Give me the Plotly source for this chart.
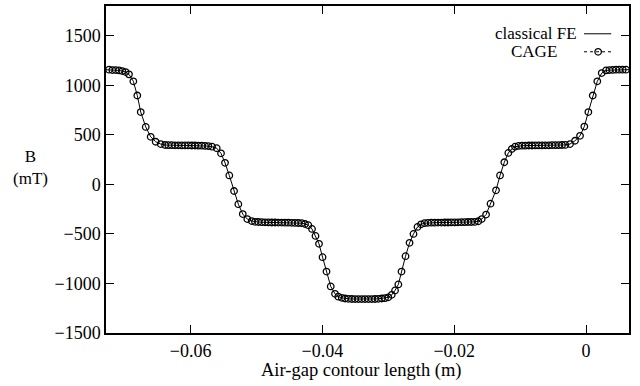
import plotly.graph_objects as go

# Air-gap contour length (m)
x_vals = [
    -0.07288, -0.07238, -0.07188, -0.07137, -0.07086, -0.07036, -0.06985, -0.06935,
    -0.06869, -0.06809, -0.06757, -0.06681, -0.06606, -0.06530, -0.06454, -0.06388,
    -0.06338, -0.06287, -0.06237, -0.06187, -0.06135, -0.06085, -0.06035, -0.05983,
    -0.05933, -0.05883, -0.05832, -0.05781, -0.05731, -0.05675, -0.05604, -0.05539,
    -0.05478, -0.05413, -0.05341, -0.05276, -0.05209, -0.05140, -0.05073, -0.05023,
    -0.04973, -0.04921, -0.04871, -0.04821, -0.04769, -0.04719, -0.04669, -0.04618,
    -0.04568, -0.04517, -0.04466, -0.04416, -0.04366, -0.04314, -0.04264, -0.04214,
    -0.04158, -0.04105, -0.04052, -0.03998, -0.03938, -0.03874, -0.03809, -0.03759,
    -0.03707, -0.03657, -0.03607, -0.03555, -0.03505, -0.03455, -0.03404, -0.03354,
    -0.03303, -0.03252, -0.03202, -0.03152, -0.03100, -0.03050, -0.03000, -0.02948,
    -0.02898, -0.02848, -0.02800, -0.02739, -0.02678, -0.02618, -0.02557, -0.02504,
    -0.02451, -0.02398, -0.02347, -0.02296, -0.02246, -0.02196, -0.02144, -0.02094,
    -0.02044, -0.01992, -0.01942, -0.01892, -0.01841, -0.01791, -0.01741, -0.01689,
    -0.01634, -0.01583, -0.01517, -0.01449, -0.01366, -0.01305, -0.01240, -0.01179,
    -0.01127, -0.01077, -0.01024, -0.00971, -0.00921, -0.00870, -0.00819, -0.00769,
    -0.00718, -0.00668, -0.00618, -0.00566, -0.00516, -0.00466, -0.00414, -0.00364,
    -0.00314, -0.00243, -0.00167, -0.00091, -0.00026, 0.00035, 0.00102, 0.00171,
    0.00238, 0.00303, 0.00354, 0.00405, 0.00455, 0.00505, 0.00557, 0.00607, 0.00657,
]

# B (mT)
b_vals = [
    1157, 1157, 1153, 1153, 1150, 1143, 1133, 1110,
    1040, 897, 730, 580, 480, 430, 407, 397,
    395, 395, 394, 394, 393, 393, 393, 392,
    392, 391, 390, 388, 386, 380, 365, 313,
    217, 90, -67, -200, -300, -350, -370, -378,
    -380, -382, -383, -384, -385, -385, -386, -386,
    -387, -387, -388, -389, -390, -392, -400, -412,
    -450, -520, -600, -735, -880, -1030, -1105, -1133,
    -1145, -1152, -1155, -1157, -1158, -1158, -1158, -1158,
    -1158, -1158, -1157, -1155, -1152, -1148, -1140, -1115,
    -1070, -1010, -880, -725, -590, -500, -430, -403,
    -392, -388, -387, -387, -386, -386, -385, -385,
    -384, -384, -383, -382, -381, -380, -380, -379,
    -372, -350, -305, -195, -60, 90, 223, 317,
    357, 380, 388, 390, 391, 392, 392, 393,
    393, 393, 394, 394, 395, 395, 396, 397,
    398, 407, 440, 490, 583, 730, 897, 1040,
    1123, 1150, 1153, 1155, 1157, 1157, 1157, 1157, 1157,
]

assert len(x_vals) == len(b_vals)

series_names = ["classical FE", "CAGE"]
x_ticks = [-0.06, -0.04, -0.02, 0]
x_tick_text = ["\u22120.06", "\u22120.04", "\u22120.02", "0"]
y_ticks = [-1500, -1000, -500, 0, 500, 1000, 1500]
y_tick_text = ["\u22121500", "\u22121000", "\u2212500", "0", "500", "1000", "1500"]

FONT = "'Liberation Serif', 'DejaVu Serif', serif"

fig = go.Figure()
fig.add_trace(go.Scatter(
    x=x_vals, y=b_vals, mode="lines", name=series_names[0],
    line=dict(color="black", width=1), showlegend=False,
))
fig.add_trace(go.Scatter(
    x=x_vals, y=b_vals, mode="markers", name=series_names[1],
    marker=dict(symbol="circle-open", size=6.5, color="black", line=dict(width=1.3)),
    cliponaxis=False, showlegend=False,
))

axis_common = dict(
    showgrid=False, zeroline=False, showline=True, linecolor="black", linewidth=1.5,
    mirror="ticks", ticks="inside", ticklen=8, tickwidth=1, tickcolor="black",
    tickfont=dict(family=FONT, size=18, color="black"),
)

fig.update_xaxes(
    range=[-0.07284, 0.00652], tickvals=x_ticks, ticktext=x_tick_text,
    ticklabelstandoff=1,
    **axis_common,
)
fig.update_yaxes(
    range=[-1500, 1800], tickvals=y_ticks, ticktext=y_tick_text,
    **axis_common,
)

# X axis title
fig.add_annotation(
    text="Air-gap contour length (m)", xref="paper", yref="paper", x=0.4876, y=-0.114,
    showarrow=False, xanchor="center", yanchor="middle",
    font=dict(family=FONT, size=18.5, color="black"),
)

# Y axis label (horizontal, two lines)
fig.add_annotation(
    text="B<br>(mT)", xref="paper", yref="paper", x=-0.145, y=0.507,
    showarrow=False, xanchor="center", yanchor="middle",
    font=dict(family=FONT, size=17, color="black"),
)

# gnuplot-style key: text then sample on the right
fig.add_annotation(text=series_names[0], xref="paper", yref="paper", x=0.905, y=0.915,
                   showarrow=False, xanchor="right", yanchor="middle",
                   font=dict(family=FONT, size=17, color="black"))
fig.add_annotation(text=series_names[1], xref="paper", yref="paper", x=0.866, y=0.86,
                   showarrow=False, xanchor="right", yanchor="middle",
                   font=dict(family=FONT, size=17, color="black"))
fig.add_shape(type="line", xref="paper", yref="paper", x0=0.914, x1=0.966, y0=0.915, y1=0.915,
              line=dict(color="black", width=1))
fig.add_shape(type="line", xref="paper", yref="paper", x0=0.914, x1=0.97, y0=0.86, y1=0.86,
              line=dict(color="black", width=1, dash="dot"))
fig.add_trace(go.Scatter(
    x=[0.941], y=[0.86], xaxis="x2", yaxis="y2", mode="markers",
    marker=dict(symbol="circle-open", size=6.5, color="black", line=dict(width=1.3)),
    showlegend=False, hoverinfo="skip",
))
fig.update_layout(
    xaxis2=dict(overlaying="x", range=[0, 1], visible=False, domain=[0, 1]),
    yaxis2=dict(overlaying="y", range=[0, 1], visible=False),
)

fig.update_layout(
    width=640, height=386,
    margin=dict(l=106, r=11, t=4, b=53),
    paper_bgcolor="white", plot_bgcolor="white",
    showlegend=False,
)

fig.write_html(
    "out.html",
    config={"displayModeBar": False},
    post_script="document.body.style.margin='0';document.body.style.padding='0';",
)
